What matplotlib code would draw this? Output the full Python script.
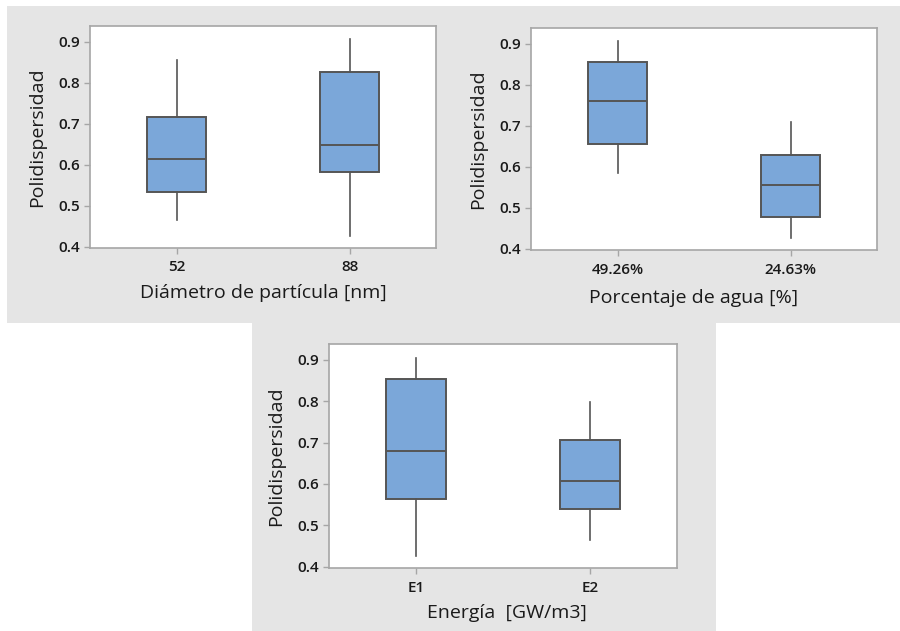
import matplotlib
matplotlib.use("Agg")
import matplotlib.pyplot as plt
from matplotlib.patches import Rectangle

plt.rcParams['font.family'] = ['Open Sans', 'DejaVu Sans']

# Polidispersidad summaries: whisker low, Q1, median, Q3, whisker high
diam_labels = ["52", "88"]
diam_whislo = [0.465, 0.427]
diam_q1 = [0.533, 0.583]
diam_med = [0.614, 0.649]
diam_q3 = [0.716, 0.827]
diam_whishi = [0.855, 0.906]

agua_labels = ["49.26%", "24.63%"]
agua_whislo = [0.585, 0.426]
agua_q1 = [0.655, 0.478]
agua_med = [0.761, 0.556]
agua_q3 = [0.854, 0.629]
agua_whishi = [0.906, 0.708]

energia_labels = ["E1", "E2"]
energia_whislo = [0.426, 0.465]
energia_q1 = [0.563, 0.540]
energia_med = [0.679, 0.606]
energia_q3 = [0.853, 0.707]
energia_whishi = [0.904, 0.797]

y_ticks = [0.4, 0.5, 0.6, 0.7, 0.8, 0.9]

W, H = 900, 631
BG = "#e5e5e5"
BOX_FACE = "#7ba7d9"
EDGE = "#555555"
SPINE = "#a6a6a6"
TEXT = "#1a1a1a"

fig = plt.figure(figsize=(W / 100, H / 100), dpi=100)
fig.patch.set_facecolor("white")


def px_rect(x0, y0, x1, y1):
    """Rectangle in pixel coordinates (origin top-left) -> figure fraction."""
    return [x0 / W, 1 - y1 / H, (x1 - x0) / W, (y1 - y0) / H]


# grey panel backgrounds
for x0, y0, x1, y1 in [(7, 6, 900, 323), (252, 323, 716, 631)]:
    l, b, w, h = px_rect(x0, y0, x1, y1)
    fig.patches.append(Rectangle((l, b), w, h, transform=fig.transFigure,
                                 facecolor=BG, edgecolor="none", zorder=-10))


def panel(rect, labels, whislo, q1, med, q3, whishi, xlabel, xlab_pos):
    ax = fig.add_axes(px_rect(*rect))
    stats = [dict(whislo=a, q1=b, med=c, q3=d, whishi=e, fliers=[])
             for a, b, c, d, e in zip(whislo, q1, med, q3, whishi)]
    ax.bxp(stats, positions=[1, 2], widths=0.34, patch_artist=True,
           showcaps=False, showfliers=False,
           boxprops=dict(facecolor=BOX_FACE, edgecolor=EDGE, linewidth=1.4),
           medianprops=dict(color=EDGE, linewidth=1.4),
           whiskerprops=dict(color=EDGE, linewidth=1.2))
    ax.set_xlim(0.5, 2.5)
    ax.set_ylim(0.397, 0.938)
    ax.set_yticks(y_ticks)
    ax.set_yticklabels([f"{t:.1f}" for t in y_ticks])
    ax.set_xticks([1, 2])
    ax.set_xticklabels(labels)
    for s in ax.spines.values():
        s.set_color(SPINE)
        s.set_linewidth(1.2)
    ax.tick_params(axis="both", direction="out", length=4, width=1,
                   color=SPINE, labelsize=11, labelcolor=TEXT)
    for t in ax.get_xticklabels() + ax.get_yticklabels():
        t.set_fontweight("semibold")
    ax.tick_params(axis="y", pad=3)
    ax.tick_params(axis="x", pad=5)
    ax.set_ylabel("Polidispersidad", fontsize=14, color=TEXT, va="center")
    ax.set_xlabel(xlabel, fontsize=14, color=TEXT, va="center")
    ax.yaxis.set_label_coords(-0.153, 0.5)
    ax.xaxis.set_label_coords(*xlab_pos)
    return ax


panel((90, 26, 436, 248), diam_labels, diam_whislo, diam_q1, diam_med,
      diam_q3, diam_whishi, "Diámetro de partícula [nm]", (0.50, -0.203))
panel((531, 28, 877, 250), agua_labels, agua_whislo, agua_q1, agua_med,
      agua_q3, agua_whishi, "Porcentaje de agua [%]", (0.47, -0.216))
panel((329, 344, 677, 568), energia_labels, energia_whislo, energia_q1,
      energia_med, energia_q3, energia_whishi, "Energía  [GW/m3]", (0.51, -0.20))

fig.savefig("out.png", dpi=100, facecolor=fig.get_facecolor())
